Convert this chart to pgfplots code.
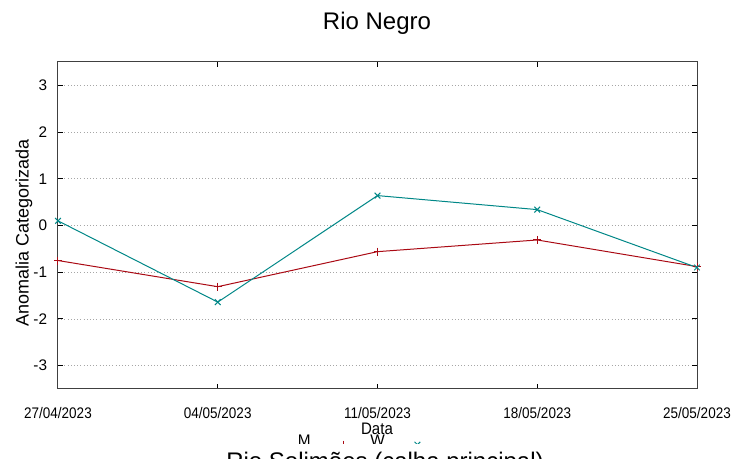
\documentclass[border=0pt]{standalone}
\usepackage{pgfplots}
\pgfplotsset{compat=1.18}
\usepackage{fontspec}
\setmainfont{Liberation Sans}
\definecolor{serM}{RGB}{170,10,20}
\definecolor{serW}{RGB}{0,135,135}
\begin{document}
\begin{tikzpicture}[x=0.75pt,y=0.75pt]
\useasboundingbox (0,0) rectangle (753,459);
\begin{scope}
\clip (0,15) rectangle (753,459);
\begin{axis}[
    at={(43.5pt,52.5pt)}, anchor=south west,
    scale only axis, width=479.25pt, height=245.25pt,
    xmin=0, xmax=4, ymin=-3.5, ymax=3.5,
    xtick={0,1,2,3,4},
    xticklabels={27/04/2023,04/05/2023,11/05/2023,18/05/2023,25/05/2023},
    ytick={-3,-2,-1,0,1,2,3},
    /pgf/number format/assume math mode=true,
    tick align=inside, tick pos=both,
    major tick length=3.5pt,
    tick style={black, line width=0.75pt},
    axis line style={line width=0.75pt, black!75},
    ymajorgrids,
    grid style={gray!70, dotted, line width=0.6pt},
    x tick label style={font=\fontsize{11.5}{12}\selectfont, xscale=0.88,
        anchor=north, inner sep=0pt, yshift=-13.5pt},
    y tick label style={font=\fontsize{11.5}{12}\selectfont,
        anchor=east, inner sep=0pt, xshift=-8pt},
    legend columns=2,
    legend plot pos=right,
    legend style={at={(0.484,-0.160)}, anchor=center, draw=none, fill=none,
        font=\fontsize{11.5}{12}\selectfont,
        /tikz/every odd column/.append style={column sep=6pt},
        /tikz/every even column/.append style={column sep=2pt}},
    legend image code/.code={
        \draw[#1, mark repeat=2, mark phase=2] plot coordinates {(0pt,-2.5pt) (16pt,-2.5pt) (32pt,-2.5pt)};},
]
\addplot[serM, line width=0.75pt, mark=+, mark size=3pt]
  coordinates {(0,-0.75) (1,-1.31) (2,-0.56) (3,-0.31) (4,-0.88)};
\addlegendentry{M}
\addplot[serW, line width=0.75pt, mark=x, mark size=3pt]
  coordinates {(0,0.10) (1,-1.64) (2,0.64) (3,0.34) (4,-0.90)};
\addlegendentry{W}
\end{axis}
\node[anchor=base, font=\fontsize{12.5}{13}\selectfont, xscale=0.9] at (377,24) {Data};
\end{scope}
\node[anchor=base, font=\fontsize{18}{20}\selectfont] at (377,429.5) {Rio Negro};
\node[rotate=90, font=\fontsize{13.5}{15}\selectfont] at (24,226) {Anomalia Categorizada};
\node[anchor=base, font=\fontsize{18}{20}\selectfont] at (385,-11) {Rio Solimões (calha principal)};
\end{tikzpicture}
\end{document}
